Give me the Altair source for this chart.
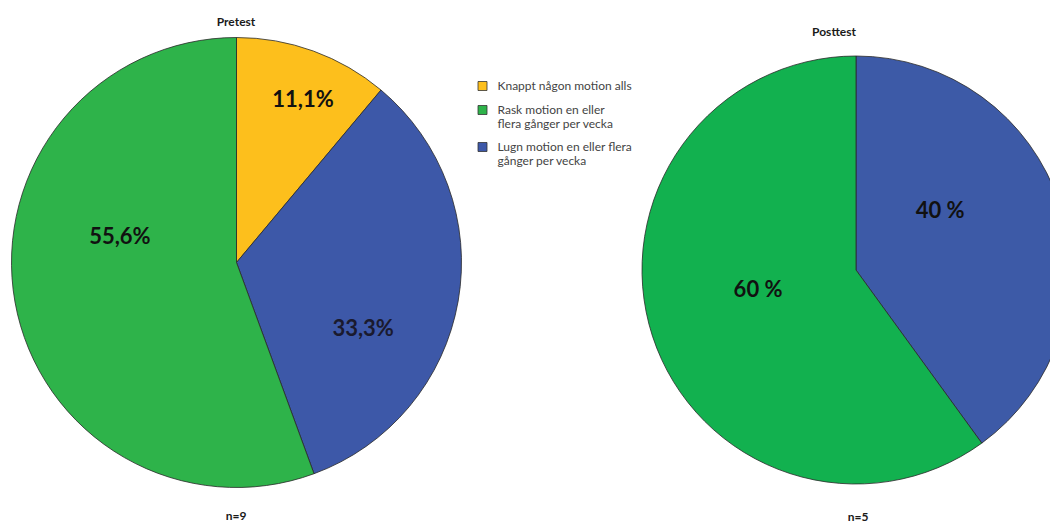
import altair as alt
import pandas as pd

# ---- data -------------------------------------------------------------
pre_categories = [
    "Knappt någon motion alls",
    "Lugn motion en eller flera gånger per vecka",
    "Rask motion en eller flera gånger per vecka",
]
pre_values = [11.1, 33.3, 55.6]
pre_labels = ["11,1%", "33,3%", "55,6%"]

post_categories = [
    "Lugn motion en eller flera gånger per vecka",
    "Rask motion en eller flera gånger per vecka",
]
post_values = [40, 60]
post_labels = ["40 %", "60 %"]

panel_titles = ["Pretest", "Posttest"]
panel_n = ["n=9", "n=5"]

legend_order = [
    "Knappt någon motion alls",
    "Rask motion en eller flera gånger per vecka",
    "Lugn motion en eller flera gånger per vecka",
]
legend_lines = [
    ["Knappt någon motion alls"],
    ["Rask motion en eller", "flera gånger per vecka"],
    ["Lugn motion en eller flera", "gånger per vecka"],
]

pre_colors = ["#FDBF1C", "#2EB34A", "#3D58A8"]   # legend order
post_colors = ["#12B14F", "#3D5AA7"]             # Rask, Lugn

pre_df = pd.DataFrame({"cat": pre_categories, "value": pre_values,
                       "label": pre_labels, "ord": list(range(len(pre_values)))})
post_df = pd.DataFrame({"cat": post_categories, "value": post_values,
                        "label": post_labels, "ord": list(range(len(post_values)))})

# ---- layout constants ---------------------------------------------------
W, H = 1042, 517
PRE_C = (228.5, 254.5)
PRE_R = 225
POST_C = (848, 262)
POST_R = 214
FONT = "Lato"

parts = []
for name, lines in zip(legend_order, legend_lines):
    if len(lines) > 1:
        arr = "[" + ", ".join("'" + l + "'" for l in lines) + "]"
        parts.append((name, arr))
label_expr = "datum.label"
for name, arr in reversed(parts):
    label_expr = f"datum.label == '{name}' ? {arr} : ({label_expr})"

theta_scale = alt.Scale(domain=[0, 100])

pre_arc = alt.Chart(pre_df).mark_arc(
    radius=PRE_R, stroke="#2a2a2a", strokeWidth=0.8
).encode(
    theta=alt.Theta("value:Q", stack=True, scale=theta_scale),
    order=alt.Order("ord:Q"),
    color=alt.Color(
        "cat:N",
        scale=alt.Scale(domain=legend_order, range=pre_colors),
        legend=alt.Legend(
            title=None, orient="none", legendX=468.5, legendY=72,
            symbolType="square", symbolSize=81, symbolStrokeColor="#333333",
            symbolStrokeWidth=0.8, symbolOpacity=1,
            labelFont=FONT, labelFontSize=12, labelColor="#444444",
            labelOffset=9, rowPadding=10, padding=0, labelLimit=300,
            labelExpr=label_expr,
        ),
    ),
    x=alt.value(PRE_C[0]), y=alt.value(PRE_C[1]),
)

post_arc = alt.Chart(post_df).mark_arc(
    radius=POST_R, stroke="#2a2a2a", strokeWidth=0.8
).encode(
    theta=alt.Theta("value:Q", stack=True, scale=theta_scale),
    order=alt.Order("ord:Q"),
    color=alt.Color(
        "cat:N",
        scale=alt.Scale(domain=[legend_order[1], legend_order[2]], range=post_colors),
        legend=None,
    ),
    x=alt.value(POST_C[0]), y=alt.value(POST_C[1]),
)


def label_layer(df, center, k, radius, theta_off, color="#111111"):
    return alt.Chart(df).mark_text(
        radius=radius, thetaOffset=theta_off, font=FONT, fontWeight="bold",
        fontSize=22, color=color, align="center", baseline="middle",
    ).encode(
        theta=alt.Theta("value:Q", stack=True, scale=theta_scale),
        order=alt.Order("ord:Q"),
        text=alt.condition(alt.datum.ord == k, "label:N", alt.value("")),
        x=alt.value(center[0]), y=alt.value(center[1]),
    )


labels = [
    label_layer(pre_df, PRE_C, 0, 175.6, 0.040),
    label_layer(pre_df, PRE_C, 1, 142.9, 0.309, "#1a1a2e"),
    label_layer(pre_df, PRE_C, 2, 119.3, 0.389),
    label_layer(post_df, POST_C, 0, 103.0, -0.300),
    label_layer(post_df, POST_C, 1, 100.0, 0.110),
]


def text_layer(txt, x, y, size=12):
    return alt.Chart(pd.DataFrame({"t": [txt]})).mark_text(
        font=FONT, fontWeight="bold", fontSize=size, color="#1a1a1a",
        align="center", baseline="middle",
    ).encode(text="t:N", x=alt.value(x), y=alt.value(y))


annotations = [
    text_layer(panel_titles[0], 228, 14),
    text_layer(panel_titles[1], 826, 24),
    text_layer(panel_n[0], 228, 508),
    text_layer(panel_n[1], 850, 509),
]

chart = alt.layer(pre_arc, post_arc, *labels, *annotations).resolve_scale(
    color="independent"
).properties(
    width=W, height=H, padding=0, autosize=alt.AutoSizeParams(type="none"),
    background="white",
).configure_view(stroke=None)

chart.save("out.html", embed_options={"renderer": "svg", "actions": False})
